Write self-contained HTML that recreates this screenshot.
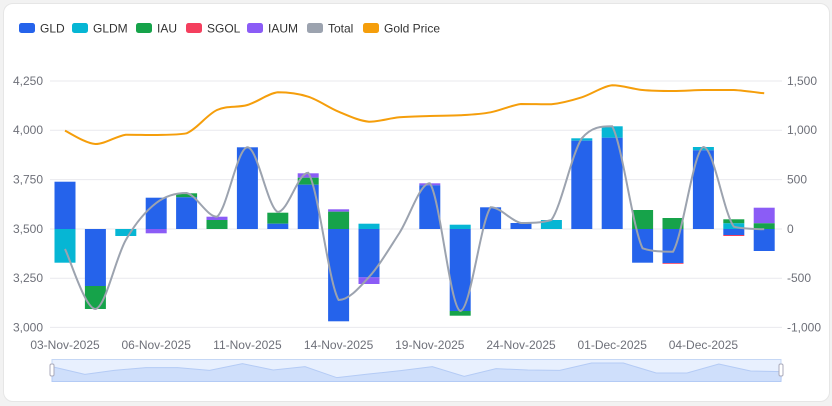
<!DOCTYPE html>
<html><head><meta charset="utf-8"><style>
html,body{margin:0;padding:0;background:#f2f2f2;}
body{width:832px;height:406px;overflow:hidden;font-family:"Liberation Sans",sans-serif;}
.card{position:absolute;left:3px;top:3px;width:825px;height:397px;background:#fff;border-radius:10px;border:1px solid #e6e6e6;}
</style></head><body>
<div class="card"></div>
<svg id="s" width="832" height="406" style="position:absolute;left:0;top:0" font-family="Liberation Sans, sans-serif"></svg>
<script>
const s=document.getElementById('s');let h='';
const C={GLD:'#2563eb',GLDM:'#06b6d4',IAU:'#16a34a',SGOL:'#f43f5e',IAUM:'#8b5cf6',T:'#9ca3af',G:'#f59e0b'};
const leg=[['GLD',19,C.GLD],['GLDM',72,C.GLDM],['IAU',136,C.IAU],['SGOL',186,C.SGOL],['IAUM',247,C.IAUM],['Total',307,C.T],['Gold Price',363,C.G]];
leg.forEach(l=>{h+=`<rect x="${l[1]}" y="23" width="16" height="10" rx="2.5" fill="${l[2]}"/><text x="${l[1]+21}" y="32.5" font-size="12" fill="#333">${l[0]}</text>`;});
const gy=[81,130.2,179.6,229,278.2,327.4];const lv=['4,250','4,000','3,750','3,500','3,250','3,000'];const rv=['1,500','1,000','500','0','-500','-1,000'];
gy.forEach((y,i)=>{h+=`<line x1="50" x2="782" y1="${y}" y2="${y}" stroke="#e9e9ee" stroke-width="1"/>`;
h+=`<text x="43" y="${y+4}" font-size="12" fill="#6e7079" text-anchor="end">${lv[i]}</text>`;
h+=`<text x="787" y="${y+4}" font-size="12" fill="#6e7079">${rv[i]}</text>`;});
const cx=i=>65+i*30.4;
const B=[
[[C.GLD,181.7,229],[C.GLDM,229,262.7]],
[[C.GLD,229,286],[C.IAU,286,309]],
[[C.GLDM,229,236]],
[[C.GLD,197.7,229],[C.IAUM,229,233.3]],
[[C.IAU,193.3,197.3],[C.GLD,197.3,229]],
[[C.IAUM,216.7,220],[C.IAU,220,229]],
[[C.GLD,147.3,229]],
[[C.IAU,212.7,223.7],[C.GLD,223.7,229]],
[[C.IAUM,173.3,177.7],[C.IAU,177.7,184.7],[C.GLD,184.7,229]],
[[C.IAUM,209.3,211.7],[C.IAU,211.7,229],[C.GLD,229,321.3]],
[[C.GLDM,223.7,229],[C.GLD,229,277.3],[C.IAUM,277.3,284]],
[],
[[C.IAUM,183.3,185.3],[C.GLD,185.3,229]],
[[C.GLDM,224.7,229],[C.GLD,229,311],[C.IAU,311,315.7]],
[[C.GLD,207.3,229]],
[[C.GLD,223,229]],
[[C.GLDM,220,229]],
[[C.GLDM,138.3,140.7],[C.GLD,140.7,229]],
[[C.GLDM,126.3,137.7],[C.GLD,137.7,229]],
[[C.IAU,210,229],[C.GLD,229,262.7]],
[[C.IAU,218,229],[C.GLD,229,263],[C.SGOL,263,263.8]],
[[C.GLDM,147,150.3],[C.GLD,150.3,229]],
[[C.IAU,219.3,223.3],[C.GLDM,223.3,229],[C.GLD,229,235],[C.SGOL,235,236]],
[[C.IAUM,207.7,223.3],[C.IAU,223.3,229],[C.GLD,229,251]]];
B.forEach((b,i)=>b.forEach(r=>{h+=`<rect x="${cx(i)-10.5}" y="${r[1]}" width="21" height="${Math.max(r[2]-r[1],0.8)}" fill="${r[0]}"/>`;}));
function cl(v,a,b){const lo=Math.min(a,b),hi=Math.max(a,b);return Math.max(lo,Math.min(hi,v));}
function smooth(p){let d=`M${p[0][0]},${p[0][1]}`;for(let i=0;i<p.length-1;i++){const p0=p[Math.max(i-1,0)],p1=p[i],p2=p[i+1],p3=p[Math.min(i+2,p.length-1)];const t=1/6;
const y1=cl(p1[1]+(p2[1]-p0[1])*t,p1[1],p2[1]),y2=cl(p2[1]-(p3[1]-p1[1])*t,p1[1],p2[1]);
d+=` C${p1[0]+(p2[0]-p0[0])*t},${y1} ${p2[0]-(p3[0]-p1[0])*t},${y2} ${p2[0]},${p2[1]}`;}return d;}
const T=[249,309,240,203,193,216.7,147.3,212,172.7,300,277,233,183.3,311,207.3,223,220,138.3,126.3,248.3,251.7,147,226.7,229.3];
const G=[130.7,144,134.7,135,133.3,110,105,92.3,96.7,111.7,121.7,117.3,116,115.3,112.3,104,104.3,97.3,85.3,90,91,90,90,93.3];
h+=`<path d="${smooth(T.map((y,i)=>[cx(i),y]))}" fill="none" stroke="${C.T}" stroke-width="2"/>`;
h+=`<path d="${smooth(G.map((y,i)=>[cx(i),y]))}" fill="none" stroke="${C.G}" stroke-width="2"/>`;
const xl=[[0,'03-Nov-2025'],[3,'06-Nov-2025'],[6,'11-Nov-2025'],[9,'14-Nov-2025'],[12,'19-Nov-2025'],[15,'24-Nov-2025'],[18,'01-Dec-2025'],[21,'04-Dec-2025']];
xl.forEach(l=>{h+=`<text x="${cx(l[0])}" y="349" font-size="12" fill="#6e7079" text-anchor="middle">${l[1]}</text>`;});
const sp=[[98,80],[160,103],[215,91],[275,83],[335,83],[395,91],[457,71],[515,90],[575,80],[635,113],[695,102],[755,92],[815,80],[875,109],[935,86],[995,90],[1055,91],[1115,69],[1175,69],[1237,99],[1295,99],[1355,72],[1415,93],[1473,95]].map(p=>[p[0]/1.885,340+p[1]/3]);
h+=`<rect x="52" y="359.5" width="729" height="22" fill="#e8f0fe" stroke="#c5d7f5"/>`;
h+=`<path d="M52,381.5 L${sp.map(p=>p.join(',')).join(' L')} L781,381.5Z" fill="#cfdffb" stroke="#b4cbf5" stroke-width="1"/>`;
h+=`<rect x="50" y="364" width="4" height="12" rx="1.5" fill="#fff" stroke="#aab"/><rect x="779" y="364" width="4" height="12" rx="1.5" fill="#fff" stroke="#aab"/>`;
s.innerHTML=h;
</script>
</body></html>
